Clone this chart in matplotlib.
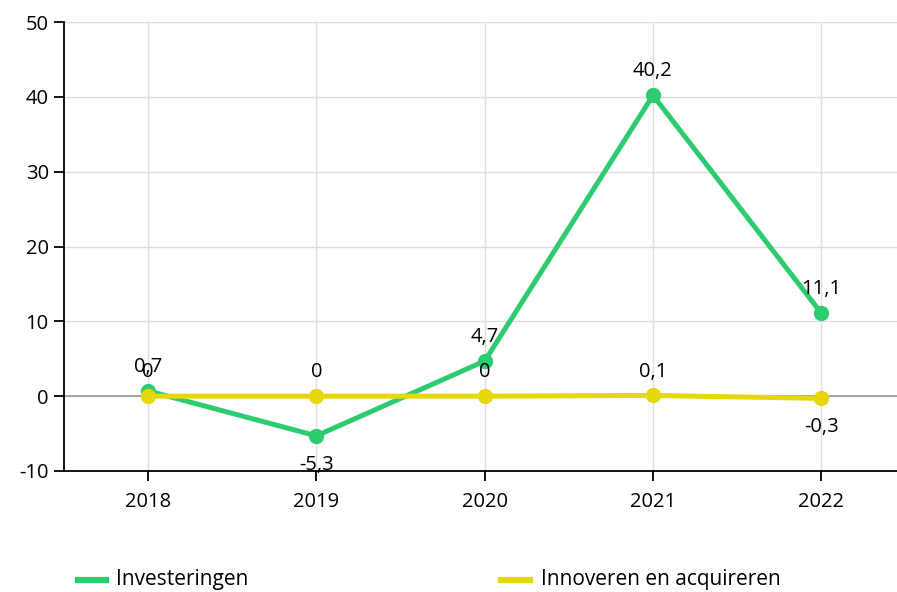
import matplotlib.pyplot as plt
from matplotlib.lines import Line2D

plt.rcParams['font.family'] = ['Open Sans', 'DejaVu Sans']
plt.rcParams['axes.unicode_minus'] = False

years = ['2018', '2019', '2020', '2021', '2022']
investeringen = [0.7, -5.3, 4.7, 40.2, 11.1]
innoveren = [0, 0, 0, 0.1, -0.3]
inv_labels = ['0,7', '-5,3', '4,7', '40,2', '11,1']
inn_labels = ['0', '0', '0', '0,1', '-0,3']

GREEN = '#2ecc71'
YELLOW = '#e6d70a'

fig = plt.figure(figsize=(8.97, 5.92), dpi=100)
ax = fig.add_axes([64/897, 1 - 471/592, 833/897, 449/592])

x = list(range(len(years)))
ax.plot(x, investeringen, '-o', color=GREEN, lw=3.6, ms=10, zorder=3)
ax.plot(x, innoveren, '-o', color=YELLOW, lw=3.6, ms=10, zorder=4)

for vals, labels in [(investeringen, inv_labels), (innoveren, inn_labels)]:
    for i, (v, t) in enumerate(zip(vals, labels)):
        off = -28 if v < 0 else 10
        ax.annotate(t, (i, v), xytext=(0, off), textcoords='offset points',
                    ha='center', va='bottom', fontsize=14.5)

ax.axhline(0, color='#999999', lw=1.2, zorder=2)
ax.set_xlim(-0.5, 4.45)
ax.set_ylim(-10, 50)
ax.set_yticks(range(-10, 51, 10))
ax.set_xticks(x)
ax.set_xticklabels(years)
ax.grid(True, color='#dddddd', lw=1, zorder=0)
for s in ['top', 'right']:
    ax.spines[s].set_visible(False)
ax.spines['left'].set_linewidth(1.3)
ax.spines['bottom'].set_linewidth(1.3)
ax.tick_params(axis='both', labelsize=14.5, width=1.3, length=7, pad=8)
ax.tick_params(axis='y', pad=4)

# legend at the bottom
fig.add_artist(Line2D([78/897, 106/897], [1 - 580/592] * 2, color=GREEN, lw=4.5))
fig.text(116/897, 1 - 580/592, 'Investeringen', fontsize=15, va='center')
fig.add_artist(Line2D([501/897, 530/897], [1 - 580/592] * 2, color=YELLOW, lw=4.5))
fig.text(541/897, 1 - 580/592, 'Innoveren en acquireren', fontsize=15, va='center')

fig.savefig('out.png', dpi=100)
